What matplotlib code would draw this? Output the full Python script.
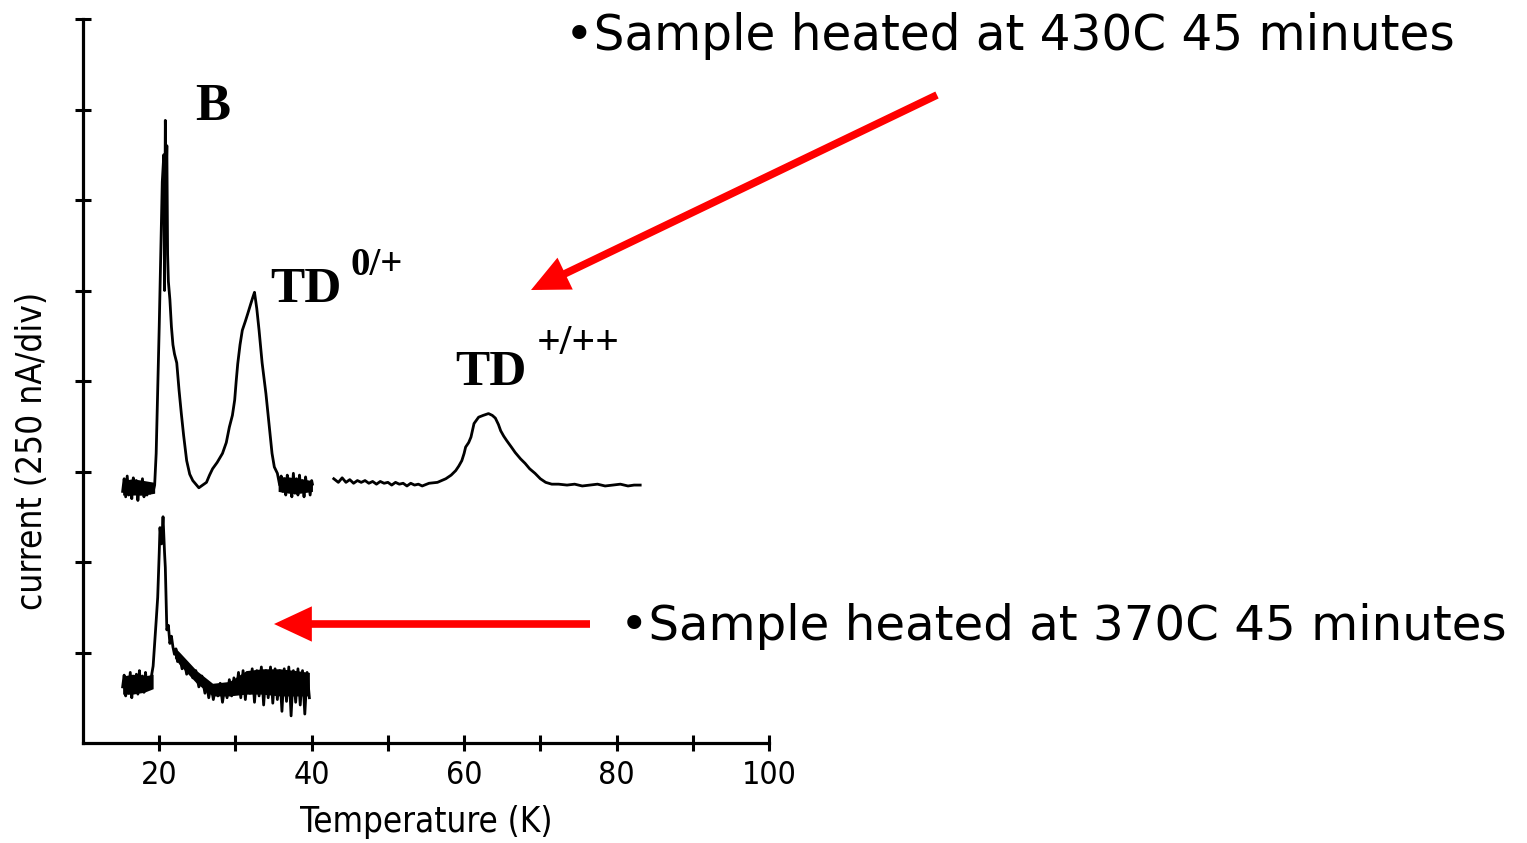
import matplotlib
matplotlib.use("Agg")
import matplotlib.pyplot as plt
from matplotlib.patches import FancyArrowPatch

# temperature (K) and current (divisions of 250 nA)
# sample heated at 430C, first scan segment
top_T = [15.2, 15.4, 15.6, 15.8, 16.0, 16.2, 16.4, 16.6, 16.8, 17.0, 17.2, 17.4,
         17.6, 17.8, 18.0, 18.2, 18.4, 18.6, 18.8, 19.0, 19.2, 19.4, 19.6, 19.8,
         20.0, 20.2, 20.4, 20.6, 20.7, 20.8, 20.9, 21.0, 21.1, 21.2, 21.4, 21.6,
         21.8, 22.0, 22.3, 22.6, 22.9, 23.2, 23.6, 24.0, 24.4, 24.8, 25.2, 25.7,
         26.2, 26.6, 27.0, 27.6, 28.3, 28.8, 29.2, 29.6, 29.9, 30.1, 30.3, 30.6,
         30.9, 31.3, 31.6, 32.0, 32.3, 32.5, 32.8, 33.1, 33.5, 34.0, 34.4, 34.8,
         35.1, 35.5, 35.8, 36.0, 36.2, 36.4, 36.6, 36.8, 37.0, 37.2, 37.4, 37.6,
         37.8, 38.0, 38.2, 38.4, 38.6, 38.8, 39.0, 39.2, 39.4, 39.6, 39.8, 40.0, 40.1]
top_I = [2.78, 2.92, 2.72, 2.95, 2.74, 2.88, 2.70, 2.93, 2.76, 2.90, 2.68, 2.86,
         2.75, 2.92, 2.72, 2.84, 2.74, 2.86, 2.76, 2.82, 2.78, 2.85, 3.20, 3.90,
         4.60, 5.40, 6.20, 6.50, 5.00, 6.88, 6.20, 6.60, 5.40, 5.10, 4.90, 4.60,
         4.40, 4.30, 4.20, 3.90, 3.64, 3.40, 3.12, 2.97, 2.90, 2.86, 2.82, 2.85,
         2.88, 2.96, 3.03, 3.10, 3.20, 3.32, 3.49, 3.62, 3.79, 4.00, 4.19, 4.40,
         4.56, 4.66, 4.74, 4.85, 4.93, 4.98, 4.80, 4.56, 4.20, 3.86, 3.53, 3.20,
         3.05, 2.98, 2.85, 2.95, 2.78, 2.92, 2.74, 2.96, 2.80, 2.90, 2.72, 2.98,
         2.76, 2.92, 2.74, 2.96, 2.78, 2.90, 2.72, 2.94, 2.80, 2.88, 2.74, 2.90, 2.86]

# sample heated at 430C, second scan segment
top2_T = [42.9, 43.5, 44.0, 44.5, 45.0, 45.5, 46.0, 46.5, 47.0, 47.5, 48.0, 48.5,
          49.0, 49.5, 50.0, 50.5, 51.0, 51.5, 52.0, 52.5, 53.0, 53.5, 54.0, 54.5,
          55.4, 56.5, 57.6, 58.3, 58.9, 59.3, 59.7, 60.0, 60.2, 60.6, 60.9, 61.3,
          61.9, 62.5, 63.2, 63.7, 64.1, 64.5, 64.8, 65.2, 65.6, 66.2, 66.7, 67.4,
          68.0, 68.6, 69.3, 70.0, 70.7, 71.5, 72.4, 73.5, 74.5, 75.5, 76.5, 77.5,
          78.5, 79.5, 80.5, 81.5, 82.3, 83.1]
top2_I = [2.92, 2.88, 2.93, 2.88, 2.91, 2.87, 2.90, 2.88, 2.90, 2.87, 2.89, 2.86,
          2.89, 2.87, 2.88, 2.85, 2.88, 2.86, 2.87, 2.84, 2.87, 2.85, 2.86, 2.84,
          2.87, 2.88, 2.92, 2.96, 3.01, 3.06, 3.12, 3.20, 3.27, 3.32, 3.38, 3.53,
          3.60, 3.62, 3.64, 3.62, 3.59, 3.52, 3.45, 3.39, 3.34, 3.27, 3.21, 3.14,
          3.09, 3.03, 2.98, 2.92, 2.88, 2.86, 2.86, 2.85, 2.86, 2.84, 2.85, 2.86,
          2.84, 2.85, 2.86, 2.84, 2.85, 2.85]

# sample heated at 370C
bot_T = [15.2, 15.4, 15.6, 15.8, 16.0, 16.2, 16.4, 16.6, 16.8, 17.0, 17.2, 17.4,
         17.6, 17.8, 18.0, 18.2, 18.4, 18.6, 18.8, 19.0, 19.2, 19.4, 19.6, 19.8,
         20.0, 20.1, 20.3, 20.5, 20.7, 20.8, 21.0, 21.2, 21.4, 21.6, 21.8, 22.0,
         22.2, 22.4, 22.7, 23.0, 23.3, 23.6, 24.0, 24.4, 24.8, 25.2, 25.6, 26.0,
         26.2, 26.5, 26.8, 27.1, 27.4, 27.7, 28.0, 28.3, 28.6, 28.9, 29.2, 29.5,
         29.8, 30.1, 30.4, 30.7, 31.0, 31.3, 31.6, 31.9, 32.2, 32.5, 32.8, 33.1,
         33.4, 33.7, 34.0, 34.3, 34.6, 34.9, 35.2, 35.5, 35.8, 36.1, 36.4, 36.7,
         37.0, 37.3, 37.6, 37.9, 38.2, 38.5, 38.8, 39.1, 39.4, 39.7]
bot_I = [0.62, 0.75, 0.52, 0.70, 0.55, 0.78, 0.50, 0.72, 0.58, 0.76, 0.54, 0.80,
         0.60, 0.74, 0.56, 0.78, 0.62, 0.72, 0.60, 0.75, 0.85, 1.10, 1.35, 1.61,
         2.10, 2.38, 2.20, 2.50, 2.10, 1.94, 1.25, 1.30, 1.10, 1.18, 1.06, 0.98,
         1.04, 0.90, 0.95, 0.82, 0.90, 0.76, 0.85, 0.72, 0.80, 0.62, 0.74, 0.55,
         0.66, 0.50, 0.64, 0.48, 0.62, 0.52, 0.66, 0.45, 0.62, 0.50, 0.70, 0.52,
         0.72, 0.55, 0.78, 0.50, 0.80, 0.48, 0.78, 0.55, 0.82, 0.45, 0.80, 0.52,
         0.84, 0.42, 0.80, 0.50, 0.84, 0.44, 0.82, 0.48, 0.80, 0.35, 0.82, 0.46,
         0.84, 0.30, 0.80, 0.45, 0.82, 0.42, 0.80, 0.32, 0.78, 0.50]

# dense noise bands (inner envelope of the scribble)
top_band1_T = [15.2, 16.5, 18.0, 19.4]
top_band1_lo = [2.74, 2.74, 2.74, 2.76]
top_band1_hi = [2.90, 2.92, 2.90, 2.88]
top_band2_T = [35.6, 37.0, 38.5, 40.1]
top_band2_lo = [2.78, 2.76, 2.76, 2.78]
top_band2_hi = [2.94, 2.94, 2.92, 2.90]
bot_band1_T = [15.2, 16.5, 18.0, 19.2]
bot_band1_lo = [0.54, 0.54, 0.56, 0.60]
bot_band1_hi = [0.74, 0.76, 0.74, 0.76]
bot_band2_T = [22.0, 22.7, 24.9, 27.0, 29.2, 31.4, 33.5, 35.8, 38.0, 39.7]
bot_band2_lo = [0.94, 0.86, 0.66, 0.52, 0.52, 0.54, 0.54, 0.52, 0.52, 0.52]
bot_band2_hi = [1.06, 1.00, 0.80, 0.66, 0.68, 0.80, 0.82, 0.82, 0.80, 0.78]

x_major = [20, 40, 60, 80, 100]
x_minor = [30, 50, 70, 90]
y_ticks = [1, 2, 3, 4, 5, 6, 7, 8]

W, H = 1527, 843
fig = plt.figure(figsize=(W / 100, H / 100), dpi=100)


def px(x, y):
    # pixel position (from top-left) -> figure fraction
    return x / W, 1 - y / H


def fit(t, size_px, vertical=False):
    # scale a text so that its length in pixels matches the reference
    r = fig.canvas.get_renderer()
    bb = t.get_window_extent(r)
    cur = bb.height if vertical else bb.width
    t.set_fontsize(t.get_fontsize() * size_px / cur)


ax = fig.add_axes([83 / W, 1 - 743 / H, (769 - 83) / W, (743 - 19) / H])
for xs, ys in [(top_T, top_I), (top2_T, top2_I), (bot_T, bot_I)]:
    ax.plot(xs, ys, color="black", lw=2.0)
for xs, lo, hi in [(top_band1_T, top_band1_lo, top_band1_hi),
                   (top_band2_T, top_band2_lo, top_band2_hi),
                   (bot_band1_T, bot_band1_lo, bot_band1_hi),
                   (bot_band2_T, bot_band2_lo, bot_band2_hi)]:
    ax.fill_between(xs, lo, hi, color="black", lw=0)

ax.set_xlim(10, 100)
ax.set_ylim(0, 8)
for s in ["top", "right"]:
    ax.spines[s].set_visible(False)
for s in ["left", "bottom"]:
    ax.spines[s].set_linewidth(2.3)

ax.set_xticks(x_major)
ax.set_xticklabels([str(v) for v in x_major], family="DejaVu Sans",
                   stretch="condensed", fontsize=23)
ax.set_xticks(x_minor, minor=True)
ax.set_yticks(y_ticks)
ax.set_yticklabels([])
ax.tick_params(axis="x", which="both", direction="inout", length=11, width=2.2, pad=7)
ax.tick_params(axis="y", direction="inout", length=11, width=2.2)

xl = fig.text(*px(426, 822), "Temperature (K)", family="DejaVu Sans",
              stretch="condensed", fontsize=24, ha="center", va="center")
yl = fig.text(*px(32, 451), "current (250 nA/div)", family="DejaVu Sans",
              stretch="condensed", fontsize=24, ha="center", va="center", rotation=90)
fit(xl, 253)
fit(yl, 318, vertical=True)

# peak labels
serif = "Liberation Serif"
fig.text(*px(213, 120), "B", family=serif, weight="bold", fontsize=38,
         ha="center", va="baseline")
fig.text(*px(270, 302), "TD", family=serif, weight="bold", fontsize=37,
         ha="left", va="baseline")
fig.text(*px(350, 275), "0/+", family=serif, weight="bold", fontsize=28,
         ha="left", va="baseline")
fig.text(*px(455, 385), "TD", family=serif, weight="bold", fontsize=37,
         ha="left", va="baseline")
fig.text(*px(537, 354), "+/++", family=serif, weight="bold", fontsize=30,
         ha="left", va="baseline")

# annotations
t1 = fig.text(*px(565, 50), "\u2022Sample heated at 430C 45 minutes",
              family="DejaVu Sans", fontsize=31, ha="left", va="baseline")
t2 = fig.text(*px(620, 640), "\u2022Sample heated at 370C 45 minutes",
              family="DejaVu Sans", fontsize=31, ha="left", va="baseline")
fit(t1, 890)
fit(t2, 885)

arrow = dict(arrowstyle="-|>,head_length=0.9,head_width=0.42", color="red",
             lw=5.5, mutation_scale=20, shrinkA=0, shrinkB=0,
             capstyle="butt", joinstyle="miter")
fig.add_artist(FancyArrowPatch(px(937, 95), px(531, 290),
                               transform=fig.transFigure, **arrow))
fig.add_artist(FancyArrowPatch(px(590, 624), px(274, 624),
                               transform=fig.transFigure, **arrow))

fig.savefig("out.png", dpi=100)
